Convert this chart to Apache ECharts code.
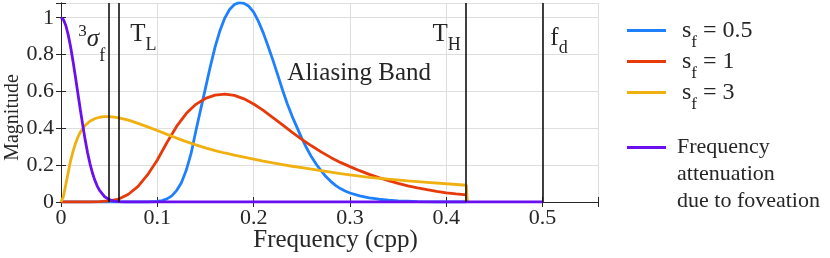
<!DOCTYPE html>
<html><head><meta charset="utf-8">
<script src="https://cdn.jsdelivr.net/npm/echarts@6/dist/echarts.min.js"></script>
<style>html,body{margin:0;padding:0;background:#fff}#c{width:830px;height:258px}</style>
</head><body><div id="c"></div>
<script>
// ---------------- DATA ----------------
const seriesNames = ['s_f = 0.5', 's_f = 1', 's_f = 3', 'Frequency attenuation due to foveation'];
const sf05 = [[0,0],[0.09,0],[0.1,0.003],[0.105,0.008],[0.11,0.017],[0.115,0.033],[0.12,0.062],[0.125,0.105],[0.13,0.172],[0.135,0.262],[0.14,0.385],[0.145,0.502],[0.15,0.618],[0.155,0.735],[0.16,0.842],[0.165,0.93],[0.17,0.998],[0.175,1.045],[0.18,1.072],[0.185,1.082],[0.19,1.078],[0.195,1.062],[0.2,1.03],[0.205,0.98],[0.21,0.918],[0.215,0.845],[0.22,0.77],[0.225,0.69],[0.23,0.608],[0.235,0.532],[0.24,0.465],[0.245,0.405],[0.25,0.345],[0.255,0.293],[0.26,0.245],[0.265,0.205],[0.27,0.17],[0.275,0.138],[0.28,0.112],[0.285,0.09],[0.29,0.073],[0.295,0.06],[0.3,0.049],[0.31,0.033],[0.32,0.022],[0.33,0.015],[0.34,0.01],[0.35,0.006],[0.36,0.004],[0.37,0.002],[0.38,0.001],[0.39,0],[0.421,0]];
const sf1 = [[0,0],[0.03,0],[0.04,0.002],[0.05,0.006],[0.06,0.016],[0.07,0.042],[0.08,0.085],[0.09,0.148],[0.1,0.228],[0.11,0.323],[0.12,0.41],[0.13,0.48],[0.14,0.53],[0.15,0.562],[0.16,0.58],[0.17,0.586],[0.18,0.579],[0.19,0.56],[0.2,0.532],[0.21,0.497],[0.22,0.458],[0.23,0.418],[0.24,0.378],[0.25,0.34],[0.26,0.305],[0.27,0.272],[0.28,0.242],[0.29,0.215],[0.3,0.192],[0.31,0.17],[0.32,0.15],[0.33,0.132],[0.34,0.116],[0.35,0.101],[0.36,0.088],[0.37,0.077],[0.38,0.067],[0.39,0.058],[0.4,0.05],[0.41,0.044],[0.421,0.039],[0.4216,0]];
const sf3 = [[0,0],[0.0025,0.03],[0.005,0.095],[0.0075,0.16],[0.01,0.225],[0.0125,0.275],[0.015,0.318],[0.0175,0.352],[0.02,0.378],[0.025,0.415],[0.03,0.438],[0.035,0.452],[0.04,0.46],[0.045,0.463],[0.05,0.463],[0.055,0.461],[0.06,0.457],[0.07,0.444],[0.08,0.427],[0.09,0.408],[0.1,0.388],[0.11,0.367],[0.12,0.347],[0.13,0.328],[0.14,0.31],[0.15,0.294],[0.16,0.279],[0.17,0.266],[0.18,0.254],[0.19,0.243],[0.2,0.233],[0.21,0.222],[0.22,0.212],[0.23,0.203],[0.24,0.194],[0.25,0.186],[0.26,0.178],[0.27,0.17],[0.28,0.162],[0.29,0.154],[0.3,0.147],[0.32,0.134],[0.34,0.124],[0.36,0.115],[0.38,0.107],[0.4,0.099],[0.421,0.091],[0.4216,0]];
const foveation = [[0,1],[0.0025,0.99],[0.005,0.958],[0.0075,0.907],[0.01,0.841],[0.0125,0.763],[0.015,0.678],[0.0175,0.59],[0.02,0.503],[0.0225,0.42],[0.025,0.34],[0.0275,0.27],[0.03,0.21],[0.0325,0.16],[0.035,0.12],[0.0375,0.088],[0.04,0.063],[0.045,0.03],[0.05,0.013],[0.055,0.005],[0.06,0.002],[0.065,0],[0.5,0]];
const markerFreqs = [0.0512, 0.0612, 0.421, 0.5]; // 3σf, T_L, T_H, f_d
const xTicks = [0, 0.1, 0.2, 0.3, 0.4, 0.5];
const yTicks = [0, 0.2, 0.4, 0.6, 0.8, 1];

// ---------------- STYLE ----------------
const FONT = "'Liberation Serif', serif";
const TXT = '#262626';
const colors = ['#1e80ff', '#e63a0a', '#f0b010', '#6a0ff0'];
const XMAX = 0.5575, YMAX = 1.08;

const chart = echarts.init(document.getElementById('c'));
const isTick = (v, ticks) => ticks.some(t => Math.abs(t - v) < 1e-6);

function axisCommon(extra) {
  return Object.assign({
    type: 'value',
    axisLine: { show: true, lineStyle: { color: TXT, width: 1 } },
    axisTick: { show: true, inside: true, length: 5, lineStyle: { color: TXT } },
  }, extra);
}

const legendRich = {
  m: { fontSize: 24, fontFamily: FONT, color: TXT, lineHeight: 24 },
  sub: { fontSize: 17, fontFamily: FONT, color: TXT, lineHeight: 18, padding: [24, 0, 0, 0] }
};

function lineSeries(i, data, extra) {
  return Object.assign({ name: seriesNames[i], type: 'line', data: data, symbol: 'none',
    lineStyle: { width: 2.8, color: colors[i] }, itemStyle: { color: colors[i] } }, extra || {});
}

const option = {
  animation: false,
  backgroundColor: '#fff',
  color: colors,
  grid: { left: 61, top: 3, width: 537, height: 199, containLabel: false, outerBoundsMode: 'none' },
  xAxis: [
    axisCommon({
      position: 'bottom', min: 0, max: XMAX, interval: 0.1,
      splitLine: { show: true, lineStyle: { color: '#dedede', width: 1 } },
      axisLabel: { margin: 5, fontSize: 22, fontFamily: FONT, color: TXT,
        formatter: v => isTick(v, xTicks) ? String(+v.toFixed(1)) : '' },
      name: 'Frequency (cpp)', nameLocation: 'middle', nameGap: 26, nameMoveOverlap: false,
      nameTextStyle: { fontSize: 25, fontFamily: FONT, color: TXT, padding: [0, 0, 0, 12] }
    }),
    axisCommon({
      position: 'top', min: 0, max: XMAX, interval: 0.1,
      splitLine: { show: false }, axisLabel: { show: false }
    })
  ],
  yAxis: [
    axisCommon({
      position: 'left', min: 0, max: YMAX, interval: 0.2,
      splitLine: { show: true, lineStyle: { color: '#dedede', width: 1 } },
      axisLabel: { margin: 7, fontSize: 22, fontFamily: FONT, color: TXT,
        formatter: v => isTick(v, yTicks) ? String(+v.toFixed(1)) : '' },
      name: 'Magnitude', nameLocation: 'middle', nameGap: 38, nameMoveOverlap: false,
      nameTextStyle: { fontSize: 20, fontFamily: FONT, color: TXT, padding: [0, 30, 0, 0] }
    }),
    axisCommon({
      position: 'right', min: 0, max: YMAX, interval: 0.2,
      splitLine: { show: false }, axisLabel: { show: false }
    })
  ],
  legend: [
    {
      data: seriesNames.slice(0, 3), orient: 'vertical', left: 622, top: 5,
      itemWidth: 39, itemHeight: 3, itemGap: -10, icon: 'rect',
      formatter: n => { const p = n.split(' = '); return '{m|s}{sub|f}{m| = ' + p[1] + '}'; },
      textStyle: { padding: [0, 0, 0, 11], rich: legendRich }
    },
    {
      data: [seriesNames[3]], orient: 'vertical', left: 622, top: 75,
      itemWidth: 39, itemHeight: 3, icon: 'rect',
      formatter: () => '\n\nFrequency\nattenuation\ndue to foveation',
      textStyle: { fontSize: 22, fontFamily: FONT, color: TXT, lineHeight: 27, padding: [0, 0, 0, 6] }
    }
  ],
  series: [
    lineSeries(0, sf05, {
      markLine: { silent: true, symbol: ['none', 'none'], label: { show: false },
        lineStyle: { color: '#111', width: 1.6, type: 'solid' },
        data: markerFreqs.map(x => ({ xAxis: x })) } }),
    lineSeries(1, sf1),
    lineSeries(2, sf3),
    lineSeries(3, foveation)
  ]
};
chart.setOption(option);

// In-plot annotations anchored in data coordinates
const annRich = {
  m: { fontSize: 25, fontFamily: FONT, fill: TXT },
  s: { fontSize: 25, fontFamily: FONT, fill: TXT, fontStyle: 'italic' },
  sup: { fontSize: 17, fontFamily: FONT, fill: TXT, padding: [0, 0, 17, 0] },
  sub: { fontSize: 18, fontFamily: FONT, fill: TXT, padding: [20, 0, 0, 0] },
  subf: { fontSize: 18, fontFamily: FONT, fill: TXT, padding: [32, 0, 0, 0] }
};
const annotations = [
  { text: '{sup|3}{s|σ}{subf|f}', at: [0.018, 0.88] },
  { text: '{m|T}{sub|L}', at: [0.072, 0.907] },
  { text: '{m|Aliasing Band}', at: [0.235, 0.70] },
  { text: '{m|T}{sub|H}', at: [0.3856, 0.907] },
  { text: '{m|f}{sub|d}', at: [0.508, 0.888] }
];
chart.setOption({
  graphic: annotations.map(a => {
    const p = chart.convertToPixel({ gridIndex: 0 }, a.at);
    return { type: 'text', x: p[0], y: p[1], silent: true,
      style: { text: a.text, rich: annRich, align: 'left', verticalAlign: 'middle', fill: TXT } };
  })
});
</script></body></html>
